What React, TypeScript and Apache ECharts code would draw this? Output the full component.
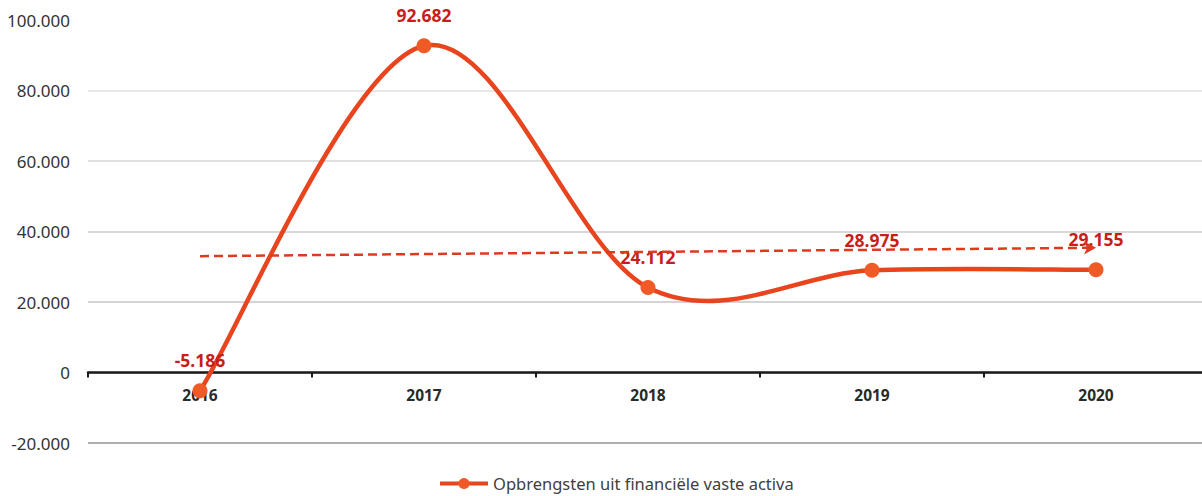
import React, { useEffect, useRef } from "react";
import * as echarts from "echarts";

const categories = ["2016", "2017", "2018", "2019", "2020"];
const values = [-5186, 92682, 24112, 28975, 29155];
const trendStart = 33000;
const trendEnd = 35400;
const yTicks = { min: -20000, max: 100000, interval: 20000 };
const seriesName = "Opbrengsten uit financiële vaste activa";

const fmt = (v: number) => {
  const s = Math.abs(v).toString().replace(/\B(?=(\d{3})+(?!\d))/g, ".");
  return (v < 0 ? "-" : "") + s;
};

const LINE_COLOR = "#e8441e";

export default function App() {
  const ref = useRef<HTMLDivElement>(null);
  useEffect(() => {
    document.body.style.margin = "0";
    document.body.style.overflow = "hidden";
    const chart = echarts.init(ref.current!, null, { renderer: "svg" });
    const font = "'Noto Sans', 'Open Sans', sans-serif";
    chart.setOption({
      animation: false,
      backgroundColor: "#ffffff",
      textStyle: { fontFamily: font },
      grid: { left: 88, right: 2, top: 20, bottom: 53, containLabel: false },
      legend: {
        left: 433,
        top: 470,
        itemWidth: 48,
        itemHeight: 14,
        itemGap: 4,
        lineStyle: { opacity: 1, width: 4, color: LINE_COLOR },
        textStyle: { fontSize: 16.5, color: "#404040", fontFamily: font },
        data: [seriesName],
      },
      xAxis: {
        type: "category",
        data: categories,
        boundaryGap: true,
        axisLine: { onZero: true, lineStyle: { color: "#1a1a1a", width: 2.5 } },
        axisTick: { show: true, length: 5, lineStyle: { color: "#1a1a1a", width: 2 } },
        axisLabel: { fontSize: 15.5, fontWeight: "bold", color: "#2a2a2a", margin: -56, fontFamily: font },
      },
      yAxis: {
        type: "value",
        min: yTicks.min,
        max: yTicks.max,
        interval: yTicks.interval,
        axisLine: { show: false },
        axisTick: { show: false },
        axisLabel: {
          fontSize: 17,
          color: "#333333",
          margin: 18,
          formatter: (v: number) => fmt(v),
          fontFamily: font,
        },
        splitLine: {
          show: true,
          lineStyle: {
            color: ["#b0b0b0", "#d4d4d4", "#d4d4d4", "#d8d8d8", "#e0e0e0", "#e8e8e8", "rgba(0,0,0,0)"],
            width: 1.8,
          },
        },
      },
      series: [
        {
          type: "custom",
          silent: true,
          z: 2,
          data: values.map((v, i) => [i, v]),
          encode: { x: 0, y: 1 },
          renderItem: (params: any, api: any) => {
            if (params.dataIndex !== 0) return null;
            const pts = values.map((v, i) => api.coord([i, v]));
            const n = pts.length;
            let d = `M${pts[0][0]},${pts[0][1]}`;
            for (let i = 0; i < n - 1; i++) {
              const p0 = pts[Math.max(0, i - 1)];
              const p1 = pts[i];
              const p2 = pts[i + 1];
              const p3 = pts[Math.min(n - 1, i + 2)];
              const c1x = p1[0] + (p2[0] - p0[0]) / 6;
              const c1y = p1[1] + (p2[1] - p0[1]) / 6;
              const c2x = p2[0] - (p3[0] - p1[0]) / 6;
              const c2y = p2[1] - (p3[1] - p1[1]) / 6;
              d += ` C${c1x},${c1y} ${c2x},${c2y} ${p2[0]},${p2[1]}`;
            }
            return {
              type: "path",
              shape: { pathData: d },
              style: { fill: "none", stroke: LINE_COLOR, lineWidth: 4.5, lineJoin: "round" },
            };
          },
        },
        {
          name: seriesName,
          type: "line",
          data: values,
          smooth: false,
          symbol: "circle",
          symbolSize: 15,
          lineStyle: { color: LINE_COLOR, width: 4, opacity: 0 },
          itemStyle: { color: "#ef5a26" },
          label: {
            show: true,
            position: "top",
            distance: 14,
            fontSize: 17.5,
            fontWeight: "bold",
            color: "#c81e1a",
            fontFamily: font,
            formatter: (p: any) => fmt(p.value),
          },
          z: 3,
          markLine: {
            silent: true,
            symbol: ["none", "arrow"],
            symbolSize: [10, 12],
            label: { show: false },
            lineStyle: { color: "#e03a1e", width: 2.5, type: [9, 5] },
            data: [
              [
                { coord: [categories[0], trendStart] },
                { coord: [categories[categories.length - 1], trendEnd] },
              ],
            ],
          },
        },
      ],
    });
    return () => chart.dispose();
  }, []);
  return <div ref={ref} style={{ width: 1210, height: 496 }} />;
}
